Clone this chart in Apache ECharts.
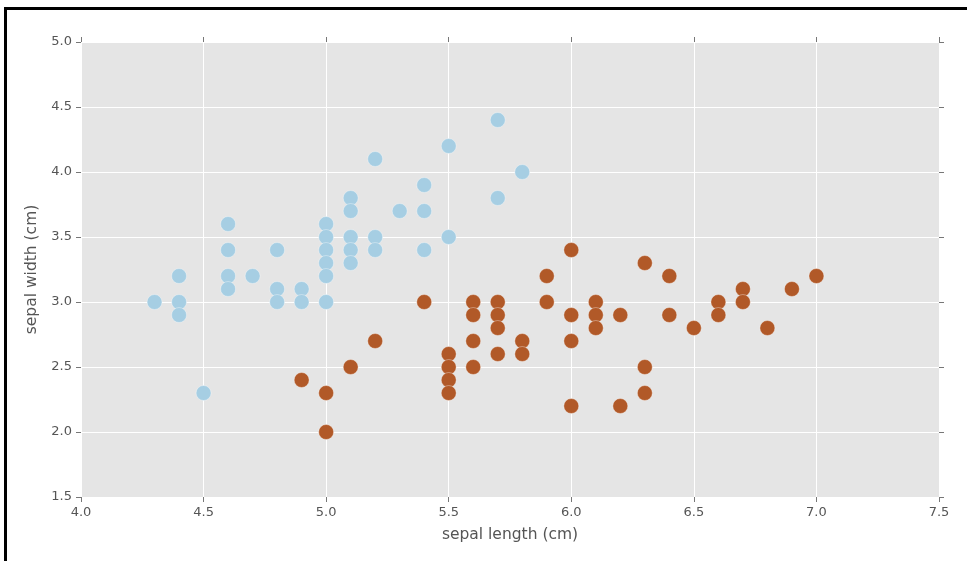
<!DOCTYPE html>
<html>
<head>
<meta charset="utf-8">
<title>iris sepal scatter</title>
<script src="https://cdn.jsdelivr.net/npm/echarts@6/dist/echarts.min.js"></script>
<style>
  html, body { margin: 0; padding: 0; background: #fff; }
  #frame { position: absolute; left: 4px; top: 7px; width: 963px; height: 554px;
           border-left: 3px solid #000; border-top: 3px solid #000; box-sizing: border-box; }
  #main { position: absolute; left: 0; top: 0; width: 967px; height: 561px; }
</style>
</head>
<body>
<div id="frame"></div>
<div id="main"></div>
<script type="text/javascript">
// setosa: [sepal length, sepal width]
var setosa = [
  [4.3, 3.0], [4.4, 3.2], [4.4, 3.0], [4.4, 2.9], [4.5, 2.3],
  [4.6, 3.6], [4.6, 3.4], [4.6, 3.2], [4.6, 3.1], [4.7, 3.2],
  [4.8, 3.4], [4.8, 3.1], [4.8, 3.0], [4.9, 3.1], [4.9, 3.0],
  [5.0, 3.6], [5.0, 3.5], [5.0, 3.4], [5.0, 3.3], [5.0, 3.2], [5.0, 3.0],
  [5.1, 3.8], [5.1, 3.7], [5.1, 3.5], [5.1, 3.4], [5.1, 3.3],
  [5.2, 4.1], [5.2, 3.5], [5.2, 3.4], [5.3, 3.7],
  [5.4, 3.9], [5.4, 3.7], [5.4, 3.4], [5.5, 4.2], [5.5, 3.5],
  [5.7, 4.4], [5.7, 3.8], [5.8, 4.0]
];
// versicolor
var versicolor = [
  [4.9, 2.4], [5.0, 2.3], [5.0, 2.0], [5.1, 2.5], [5.2, 2.7], [5.4, 3.0],
  [5.5, 2.6], [5.5, 2.5], [5.5, 2.4], [5.5, 2.3],
  [5.6, 3.0], [5.6, 2.9], [5.6, 2.7], [5.6, 2.5],
  [5.7, 3.0], [5.7, 2.9], [5.7, 2.8], [5.7, 2.6],
  [5.8, 2.7], [5.8, 2.6], [5.9, 3.2], [5.9, 3.0],
  [6.0, 3.4], [6.0, 2.9], [6.0, 2.7], [6.0, 2.2],
  [6.1, 3.0], [6.1, 2.9], [6.1, 2.8], [6.2, 2.9], [6.2, 2.2],
  [6.3, 3.3], [6.3, 2.5], [6.3, 2.3], [6.4, 3.2], [6.4, 2.9],
  [6.5, 2.8], [6.6, 3.0], [6.6, 2.9], [6.7, 3.1], [6.7, 3.0],
  [6.8, 2.8], [6.9, 3.1], [7.0, 3.2]
];
var xTicks = [4.0, 7.5, 0.5]; // min, max, step
var yTicks = [1.5, 5.0, 0.5];

var myChart = echarts.init(document.getElementById('main'));

var tickStyle = { show: true, inside: false, length: 5, lineStyle: { color: '#777', width: 1 } };
var labelStyle = { color: '#555', fontSize: 13, fontFamily: 'DejaVu Sans', margin: 9,
  formatter: function (v) { return v.toFixed(1); } };
var gridLine = { show: true, lineStyle: { color: '#ffffff', width: 1 } };
var nameStyle = { color: '#555', fontSize: 15.5, fontFamily: 'DejaVu Sans' };

function markerSeries(name, data, color) {
  return {
    name: name,
    type: 'scatter',
    xAxisIndex: 0,
    yAxisIndex: 0,
    symbolSize: 15,
    itemStyle: { color: color, opacity: 1, borderColor: 'rgba(255,255,255,0.35)', borderWidth: 1 },
    data: data
  };
}

var option = {
  animation: false,
  grid: { left: 81, right: 28, top: 42, bottom: 64, show: true, backgroundColor: '#e5e5e5', borderWidth: 0 },
  xAxis: [{
    type: 'value', position: 'bottom',
    min: xTicks[0], max: xTicks[1], interval: xTicks[2],
    name: 'sepal length (cm)', nameLocation: 'middle', nameGap: 30,
    nameTextStyle: nameStyle,
    axisLine: { show: false }, axisTick: tickStyle, axisLabel: labelStyle, splitLine: gridLine
  }, {
    type: 'value', position: 'top',
    min: xTicks[0], max: xTicks[1], interval: xTicks[2],
    axisLine: { show: false }, axisTick: tickStyle, axisLabel: { show: false }, splitLine: { show: false }
  }],
  yAxis: [{
    type: 'value', position: 'left',
    min: yTicks[0], max: yTicks[1], interval: yTicks[2],
    name: 'sepal width (cm)', nameLocation: 'middle', nameGap: 41,
    nameTextStyle: nameStyle,
    axisLine: { show: false }, axisTick: tickStyle, axisLabel: labelStyle, splitLine: gridLine
  }, {
    type: 'value', position: 'right',
    min: yTicks[0], max: yTicks[1], interval: yTicks[2],
    axisLine: { show: false }, axisTick: tickStyle, axisLabel: { show: false }, splitLine: { show: false }
  }],
  series: [
    markerSeries('setosa', setosa, '#a6cee3'),
    markerSeries('versicolor', versicolor, '#b15928')
  ]
};

myChart.setOption(option);
</script>
</body>
</html>
